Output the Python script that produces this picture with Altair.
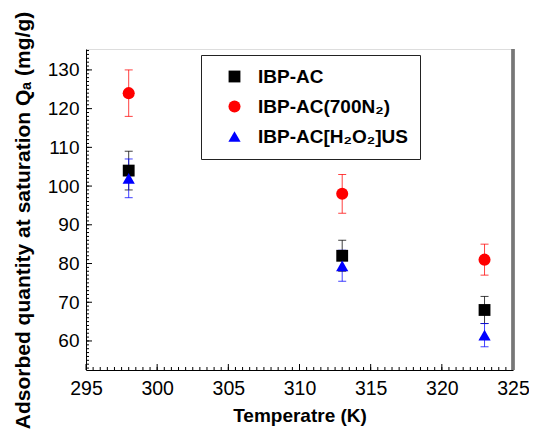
import altair as alt
import pandas as pd
import numpy as np

# ---- data ----
temps = [298, 313, 323]
series_names = ["IBP-AC", "IBP-AC(700N₂)", "IBP-AC[H₂O₂]US"]
q_ibp = [104, 82, 68]
err_ibp = [5, 4, 3.5]
q_700 = [124, 98, 81]
err_700 = [6, 5, 4]
q_h2o2 = [102, 79.4, 61.5]
err_h2o2 = [5, 4, 3]

x_ticks = [295, 300, 305, 310, 315, 320, 325]
y_ticks = [60, 70, 80, 90, 100, 110, 120, 130]
x_minor = list(np.arange(295.5, 325, 0.5))
y_minor = list(range(53, 136))

colors = ["#000000", "#ff0000", "#0000ff"]
shapes = ["square", "circle", "triangle-up"]
sizes = [140, 150, 260]

W, H = 427, 321
FONT = "Liberation Sans"

rows = []
for name, qs, es in zip(series_names, [q_ibp, q_700, q_h2o2], [err_ibp, err_700, err_h2o2]):
    for t, q, e in zip(temps, qs, es):
        rows.append({"T": t, "Q": q, "lo": q - e, "hi": q + e, "series": name})
df = pd.DataFrame(rows)

xscale = alt.Scale(domain=[295, 325], nice=False, padding=0)
yscale = alt.Scale(domain=[52.5, 135.4], nice=False, padding=0)

xaxis = alt.Axis(values=x_ticks, format="d", ticks=False, grid=False, labelFlush=False,
                 labelFontSize=19.5, labelPadding=9, labelFont=FONT,
                 title="Temperatre (K)", titleFontSize=19, titleFont=FONT,
                 titleFontWeight="bold", titlePadding=9,
                 domainColor="#000000", labelColor="#000000", titleColor="#000000")
yaxis = alt.Axis(values=y_ticks, format="d", ticks=False, grid=False, labelFlush=False,
                 labelFontSize=19, labelPadding=7, labelFont=FONT,
                 title="Adsorbed quantity at saturation Qₐ (mg/g)", titleFontSize=21,
                 titleFont=FONT, titleFontWeight="bold", titlePadding=14, titleY=171,
                 domainColor="#000000", labelColor="#000000", titleColor="#000000")

layers = []

# error bars
for name, col in zip(series_names, colors):
    sub = df[df["series"] == name]
    base = alt.Chart(sub)
    layers.append(base.mark_rule(color=col, strokeWidth=1, opacity=0.75).encode(
        x=alt.X("T:Q", scale=xscale, axis=xaxis),
        y=alt.Y("lo:Q", scale=yscale, axis=yaxis),
        y2="hi:Q"))
    for f in ["lo", "hi"]:
        layers.append(base.mark_tick(color=col, orient="horizontal", size=8, thickness=1, opacity=0.75).encode(
            x=alt.X("T:Q", scale=xscale),
            y=alt.Y(f + ":Q", scale=yscale)))

# points
points = alt.Chart(df).mark_point(filled=True, opacity=1).encode(
    x=alt.X("T:Q", scale=xscale, axis=xaxis),
    y=alt.Y("Q:Q", scale=yscale, axis=yaxis),
    color=alt.Color("series:N", scale=alt.Scale(domain=series_names, range=colors),
                    legend=alt.Legend(title=None, orient="none", legendX=115, legendY=6,
                                      strokeColor="#222222", fillColor="#ffffff",
                                      padding=12, symbolOffset=12, rowPadding=10,
                                      labelFontSize=19, labelFont=FONT, labelFontWeight="bold",
                                      labelColor="#000000", labelLimit=400, labelOffset=14,
                                      symbolSize=160, symbolStrokeWidth=0, symbolOpacity=1)),
    shape=alt.Shape("series:N", scale=alt.Scale(domain=series_names, range=shapes)),
    size=alt.Size("series:N", scale=alt.Scale(domain=series_names, range=sizes), legend=None),
)
layers.append(points)

# inward axis ticks
ymaj = pd.DataFrame({"v": y_ticks})
ymin = pd.DataFrame({"v": y_minor})
xmaj = pd.DataFrame({"v": x_ticks})
xmin = pd.DataFrame({"v": x_minor})
layers.append(alt.Chart(ymaj).mark_rule(color="#000000", strokeWidth=1).encode(
    y=alt.Y("v:Q", scale=yscale), x=alt.value(0), x2=alt.value(6)))
layers.append(alt.Chart(ymin).mark_rule(color="#000000", strokeWidth=1).encode(
    y=alt.Y("v:Q", scale=yscale), x=alt.value(0), x2=alt.value(3)))
layers.append(alt.Chart(xmaj).mark_rule(color="#000000", strokeWidth=1).encode(
    x=alt.X("v:Q", scale=xscale), y=alt.value(H), y2=alt.value(H - 6)))
layers.append(alt.Chart(xmin).mark_rule(color="#000000", strokeWidth=1).encode(
    x=alt.X("v:Q", scale=xscale), y=alt.value(H), y2=alt.value(H - 3)))
# right border (thicker grey line as in the reference)
layers.append(alt.Chart(xmaj).mark_rule(color="#777777", strokeWidth=2.5).encode(
    x=alt.value(W), y=alt.value(0), y2=alt.value(H)))

chart = alt.layer(*layers).properties(
    width=W, height=H,
    padding={"left": 78, "top": 41, "right": 16, "bottom": 64},
    autosize=alt.AutoSizeParams(type="none"),
).configure_view(stroke="#444444", strokeWidth=1).configure(background="#ffffff")

chart.save("out.html", embed_options={"renderer": "svg", "actions": False})
